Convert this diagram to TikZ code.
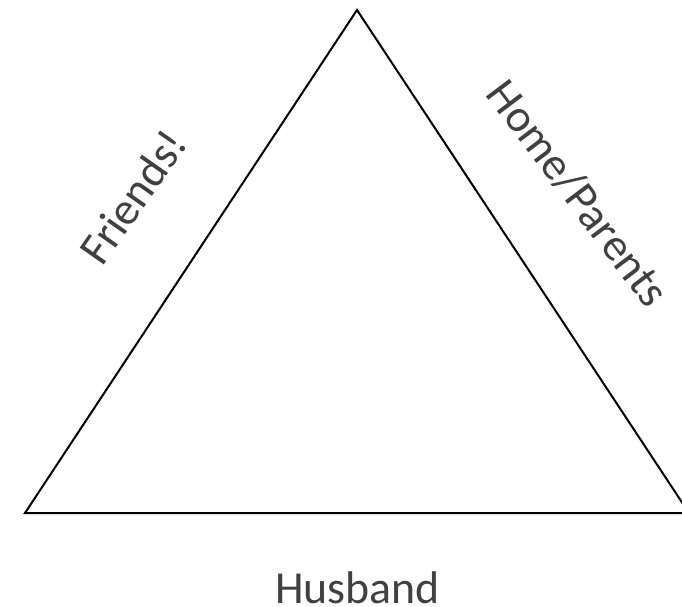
\documentclass[tikz,border=0pt]{standalone}
\usepackage{fontspec}
\setmainfont{Carlito}
\definecolor{labelgray}{HTML}{404040}
\begin{document}
\begin{tikzpicture}[x=1bp,y=-1bp,
  side/.style={draw=black,line width=2bp,line join=miter},
  lbl/.style={text=labelgray,font=\fontsize{46}{50}\selectfont,inner sep=0pt}]
\useasboundingbox (0,0) rectangle (682,607);
\clip (0,0) rectangle (682,607);
\coordinate (top) at (357,10);
\coordinate (bl) at (25,513);
\coordinate (br) at (689,513);
\draw[side] (top) -- (bl) -- (br) -- cycle;
\node[lbl,anchor=base,rotate=55] (friends) at (146,206) {Friends!};
\node[lbl,anchor=base,rotate=-53] (home) at (566,202) {Home/Parents};
\node[lbl,anchor=base] (husband) at (357.5,603) {Husband};
\end{tikzpicture}
\end{document}
